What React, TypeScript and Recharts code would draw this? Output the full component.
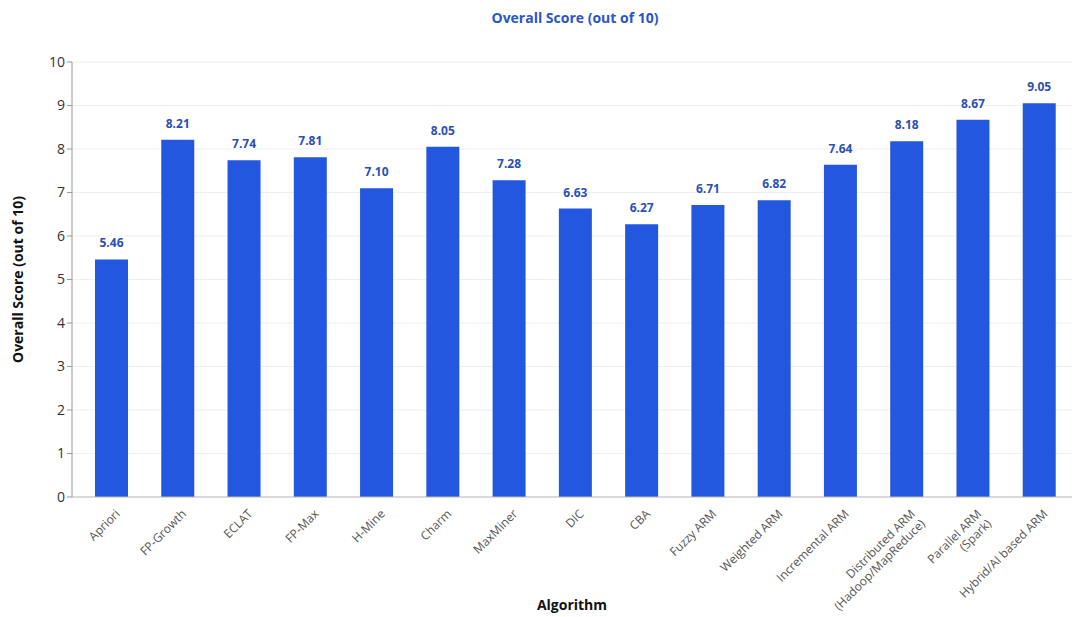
import { Bar, BarChart, CartesianGrid, LabelList, XAxis, YAxis } from "recharts";

const algorithms = [
  "Apriori",
  "FP-Growth",
  "ECLAT",
  "FP-Max",
  "H-Mine",
  "Charm",
  "MaxMiner",
  "DIC",
  "CBA",
  "Fuzzy ARM",
  "Weighted ARM",
  "Incremental ARM",
  "Distributed ARM\n(Hadoop/MapReduce)",
  "Parallel ARM\n(Spark)",
  "Hybrid/AI based ARM",
];
const scores = [5.46, 8.21, 7.74, 7.81, 7.1, 8.05, 7.28, 6.63, 6.27, 6.71, 6.82, 7.64, 8.18, 8.67, 9.05];
const yTicks = [0, 1, 2, 3, 4, 5, 6, 7, 8, 9, 10];

// labels keep two decimals (7.10, not 7.1)
const data = algorithms.map((name, i) => ({
  name,
  score: scores[i],
  scoreLabel: scores[i].toFixed(2),
}));

const FONT = "'Open Sans', 'Noto Sans', sans-serif";

function AngledTick(props: any) {
  const { x, y, payload } = props;
  const lines = String(payload.value).split("\n");
  return (
    <g transform={`translate(${x + 6},${y + 6})`}>
      <text
        transform="rotate(-45)"
        textAnchor="end"
        fontSize={12}
        fill="#555"
        fontFamily={FONT}
      >
        {lines.map((l, i) => (
          <tspan key={i} x={0} dy={i === 0 ? 5 : 14}>
            {l}
          </tspan>
        ))}
      </text>
    </g>
  );
}

export default function App() {
  return (
    <div style={{ position: "absolute", left: 0, top: 0, width: 1077, height: 617, background: "#fff", fontFamily: FONT }}>
      <div
        style={{
          position: "absolute",
          left: 0,
          top: 8,
          width: 1150,
          textAlign: "center",
          fontSize: 14,
          fontWeight: 700,
          color: "#2b55c8",
        }}
      >
        Overall Score (out of 10)
      </div>
      <BarChart
        width={1077}
        height={617}
        data={data}
        margin={{ top: 62, right: 5, bottom: 20, left: 26 }}
        barSize={33}
      >
        <CartesianGrid vertical={false} stroke="#efefef" />
        <XAxis
          dataKey="name"
          interval={0}
          tick={<AngledTick />}
          tickLine={false}
          axisLine={{ stroke: "#bbb" }}
          height={100}
          padding={{ left: 6, right: 0 }}
          label={{
            value: "Algorithm",
            position: "insideBottom",
            offset: -13,
            fontSize: 14,
            fontWeight: 700,
            fill: "#111",
          }}
        />
        <YAxis
          domain={[0, 10]}
          ticks={yTicks}
          width={46}
          tick={{ fontSize: 14, fill: "#333" }}
          tickLine={{ stroke: "#999" }}
          tickSize={5}
          axisLine={{ stroke: "#999" }}
          label={{
            value: "Overall Score (out of 10)",
            angle: -90,
            position: "insideLeft",
            offset: -8,
            style: { textAnchor: "middle" },
            fontSize: 14,
            fontWeight: 700,
            fill: "#111",
          }}
        />
        <Bar dataKey="score" fill="#2357e0" isAnimationActive={false}>
          <LabelList
            dataKey="scoreLabel"
            position="top"
            offset={12}
            fontSize={12}
            fontWeight={700}
            fill="#2b4fb5"
          />
        </Bar>
      </BarChart>
    </div>
  );
}
